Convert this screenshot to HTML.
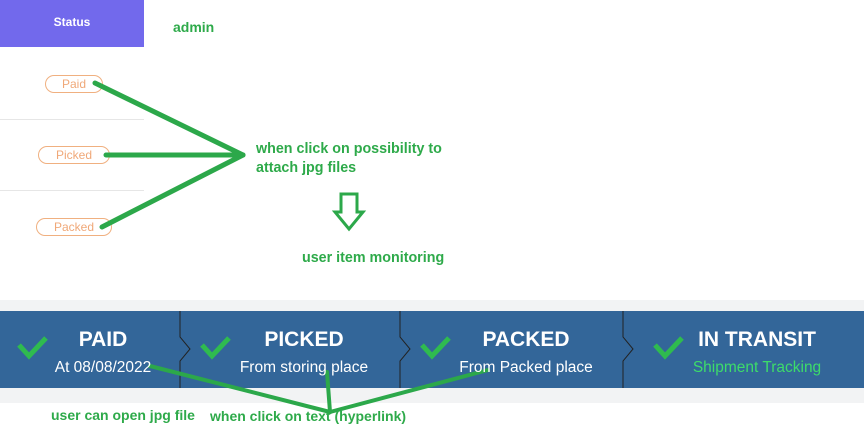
<!DOCTYPE html>
<html><head><style>
body{margin:0;width:864px;height:433px;background:#fff;position:relative;overflow:hidden;font-family:"Liberation Sans",Arial,sans-serif}
.g{color:#2eaa4a;font-weight:bold;font-size:14px;position:absolute;white-space:nowrap}
.pill{position:absolute;border:1px solid #f0b080;border-radius:10px;color:#f0a878;font-size:12px;text-align:center;height:16px;line-height:16px;background:#fff}
.band{position:absolute;left:0;top:300px;width:864px;height:103px;background:#f2f3f4}
.blue{position:absolute;left:0;top:311px;width:864px;height:77px;background:#336699}
.t{position:absolute;color:#fff;text-align:center;width:220px}
.t b{display:block;font-size:21px;margin-top:17px}
.t span{display:block;font-size:15.5px;margin-top:7px}
</style></head><body>
<div style="position:absolute;left:0;top:0;width:144px;height:47px;background:#7269ec;color:#fff;font-weight:bold;font-size:12px;text-align:center;line-height:45px">Status</div>
<div class="g" style="left:173px;top:19px;font-size:14px">admin</div>
<div style="position:absolute;left:0;top:119px;width:144px;height:1px;background:#e6e6e6"></div>
<div style="position:absolute;left:0;top:190px;width:144px;height:1px;background:#e6e6e6"></div>
<div class="pill" style="left:45px;top:75px;width:56px">Paid</div>
<div class="pill" style="left:38px;top:146px;width:70px">Picked</div>
<div class="pill" style="left:36px;top:218px;width:74px">Packed</div>
<div class="g" style="left:256px;top:140px;font-size:14.3px;line-height:19px">when click on possibility to<br>attach jpg files</div>
<div class="g" style="left:302px;top:250px;font-size:14.3px">user item monitoring</div>
<div class="band"></div>
<div class="blue"></div>
<svg width="864" height="433" style="position:absolute;left:0;top:0">
<g fill="none" stroke="#222" stroke-width="1">
<polyline points="180,311 180,337 190,349 180,361 180,388"/>
<polyline points="400,311 400,337 410,349 400,361 400,388"/>
<polyline points="623,311 623,337 633,349 623,361 623,388"/>
</g>
<g fill="none" stroke="#2fbb4f" stroke-width="5">
<polyline points="19,345 29,356 46,338"/>
<polyline points="202,345 212,356 229,338"/>
<polyline points="422,345 432,356 449,338"/>
<polyline points="655,345 665,356 682,338"/>
</g>
<g stroke="#2ca84a" stroke-width="5" stroke-linecap="round" fill="none">
<line x1="95" y1="83" x2="243" y2="155"/>
<line x1="106" y1="155" x2="243" y2="155"/>
<line x1="102" y1="227" x2="243" y2="155"/>
</g>
<g stroke="#2ca84a" stroke-width="4" stroke-linecap="round" fill="none">
<line x1="150" y1="366" x2="330" y2="412"/>
<line x1="327" y1="372" x2="330" y2="412"/>
<line x1="488" y1="370" x2="330" y2="412"/>
</g>
<polygon points="341,194 357,194 357,212 363,212 349,229 335,212 341,212" fill="none" stroke="#2ca84a" stroke-width="3"/>
</svg>
<div class="t" style="left:-7px;top:311px"><b>PAID</b><span>At 08/08/2022</span></div>
<div class="t" style="left:194px;top:311px"><b>PICKED</b><span>From storing place</span></div>
<div class="t" style="left:416px;top:311px"><b>PACKED</b><span>From Packed place</span></div>
<div class="t" style="left:647px;top:311px"><b>IN TRANSIT</b><span style="color:#3ddc6a">Shipment Tracking</span></div>
<div class="g" style="left:51px;top:407px;font-size:14px;transform:scaleX(1.0);">user can open jpg file</div>
<div class="g" style="left:210px;top:408px;font-size:14px">when click on text (hyperlink)</div>
</body></html>
